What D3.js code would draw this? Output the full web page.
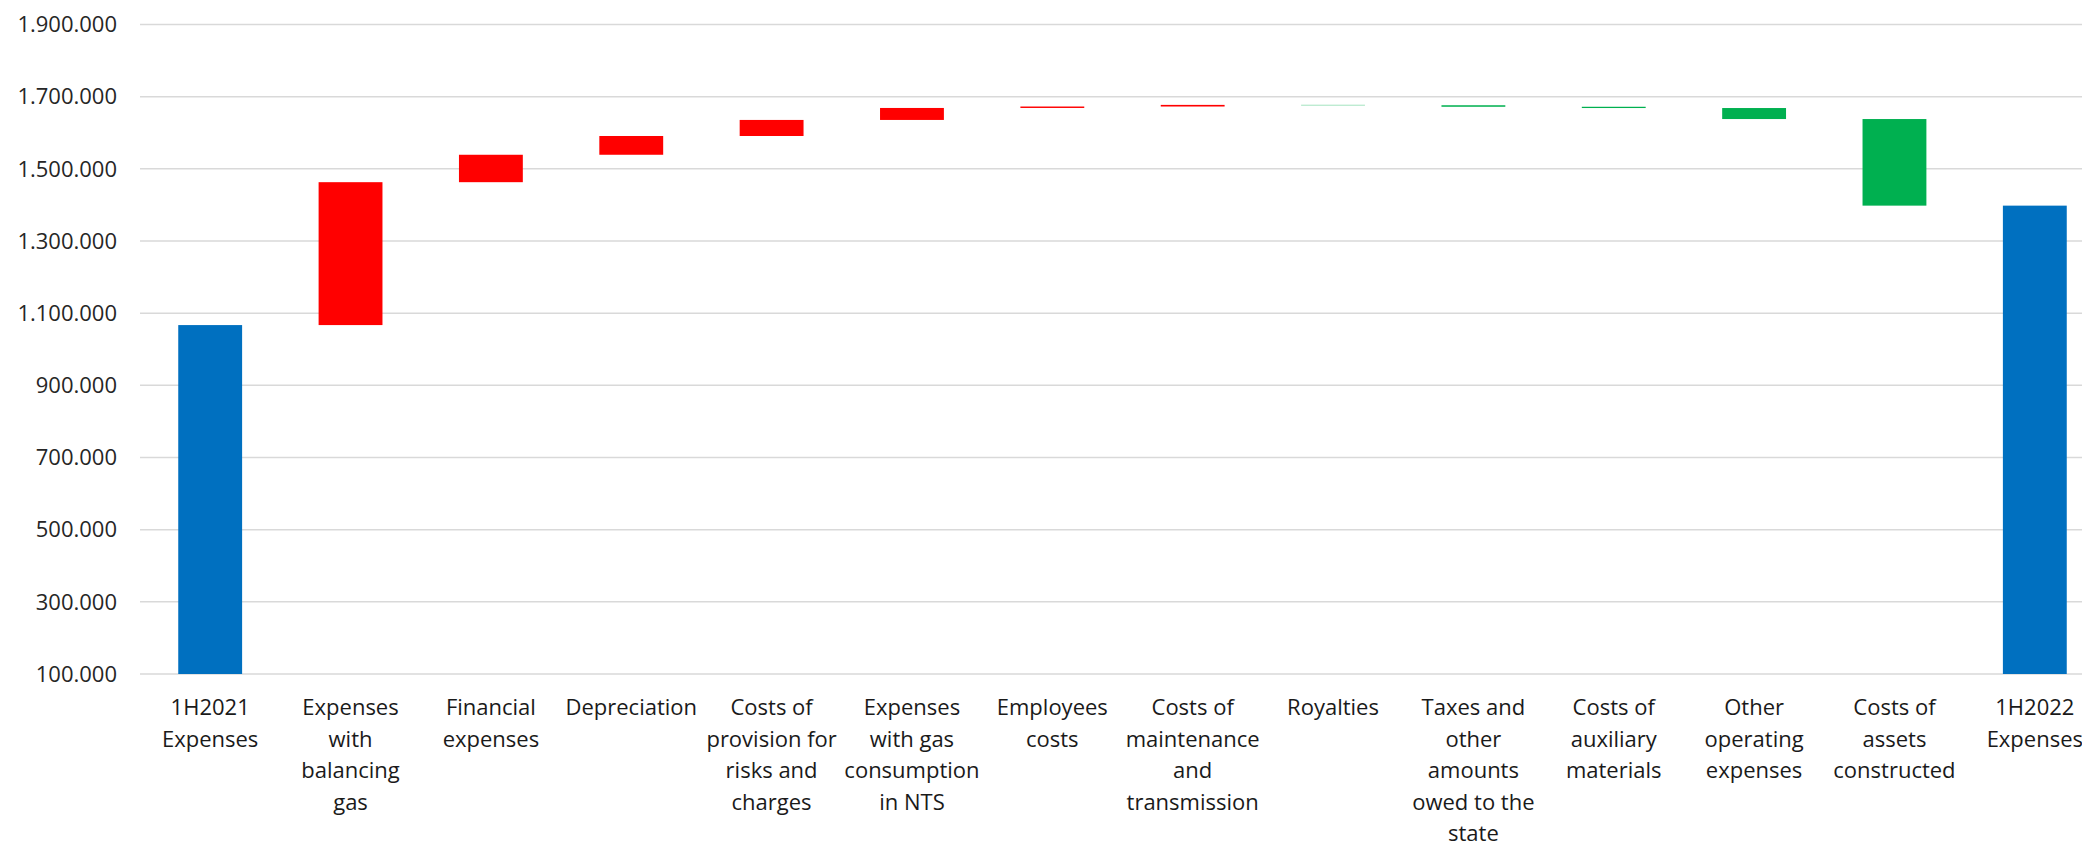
<!DOCTYPE html>
<html>
<head lang="en">
  <title>Expenses 1H2021 - 1H2022</title>
  <script src="https://d3js.org/d3.v7.min.js" charset="utf-8"></script>
  <style>
    body { margin: 0; background: #fff; }
  </style>
</head>
<body>
  <script>

    //DATA
    var categories = [
      "1H2021\nExpenses",
      "Expenses\nwith\nbalancing\ngas",
      "Financial\nexpenses",
      "Depreciation",
      "Costs of\nprovision for\nrisks and\ncharges",
      "Expenses\nwith gas\nconsumption\nin NTS",
      "Employees\ncosts",
      "Costs of\nmaintenance\nand\ntransmission",
      "Royalties",
      "Taxes and\nother\namounts\nowed to the\nstate",
      "Costs of\nauxiliary\nmaterials",
      "Other\noperating\nexpenses",
      "Costs of\nassets\nconstructed",
      "1H2022\nExpenses"
    ];

    var kinds = ["total", "delta", "delta", "delta", "delta", "delta", "delta",
                 "delta", "delta", "delta", "delta", "delta", "delta", "total"];

    var values = [1067000, 396000, 76000, 52000, 44500, 33200, 4000,
                  4500, -1000, -4200, -3500, -30500, -240000, 1398000];

    var yTicks = [100000, 300000, 500000, 700000, 900000,
                  1100000, 1300000, 1500000, 1700000, 1900000];

    var colors = { total: "#0070C0", up: "#FF0000", down: "#00B050" };

    //PART I: SETUP
    var width = 2082;
    var height = 846;
    var font = "'Segoe UI', 'Open Sans', sans-serif";

    var svg = d3.select("body")
      .append("svg")
      .attr("width", width)
      .attr("height", height);

    var x = d3.scaleBand()
      .domain(categories)
      .range([140, 2105])
      .paddingInner(0.545)
      .paddingOuter(0.2725);

    var y = d3.scaleLinear()
      .domain([yTicks[0], yTicks[yTicks.length - 1]])
      .range([674, 24.5]);

    var locale = d3.formatLocale({ decimal: ",", thousands: ".", grouping: [3], currency: ["", ""] });
    var fmt = locale.format(",.0f");

    // running totals -> bar start / end
    var running = 0;
    var bars = categories.map(function(c, i) {
      var d = { cat: c, kind: kinds[i], value: values[i] };
      if (d.kind == "total") {
        d.start = y.domain()[0];
        d.end = d.value;
        running = d.value;
        d.fill = colors.total;
      } else {
        d.start = running;
        d.end = running + d.value;
        running = d.end;
        d.fill = d.value >= 0 ? colors.up : colors.down;
      }
      return d;
    });

    //PART II: GRID + Y AXIS
    svg.append("g")
      .attr("class", "grid")
      .selectAll("line")
      .data(yTicks)
      .enter().append("line")
        .attr("x1", x.range()[0])
        .attr("x2", width)
        .attr("y1", function(d) { return y(d); })
        .attr("y2", function(d) { return y(d); })
        .attr("stroke", "#d9d9d9")
        .attr("stroke-width", 1.5);

    svg.append("g")
      .attr("class", "y-labels")
      .selectAll("text")
      .data(yTicks)
      .enter().append("text")
        .attr("x", 117)
        .attr("y", function(d) { return y(d); })
        .attr("dy", "0.35em")
        .attr("text-anchor", "end")
        .attr("font-family", font)
        .attr("font-size", "22px")
        .attr("fill", "#262626")
        .text(function(d) { return fmt(d); });

    //PART III: BARS
    svg.append("g")
      .attr("class", "bars")
      .selectAll("rect")
      .data(bars)
      .enter().append("rect")
        .attr("x", function(d) { return x(d.cat); })
        .attr("width", x.bandwidth())
        .attr("y", function(d) { return y(Math.max(d.start, d.end)); })
        .attr("height", function(d) { return Math.abs(y(d.start) - y(d.end)); })
        .attr("fill", function(d) { return d.fill; });

    //PART IV: CATEGORY LABELS
    var labels = svg.append("g")
      .attr("class", "x-labels")
      .selectAll("text")
      .data(categories)
      .enter().append("text")
        .attr("x", function(d) { return x(d) + x.bandwidth() / 2; })
        .attr("y", 715)
        .attr("text-anchor", "middle")
        .attr("font-family", font)
        .attr("font-size", "22px")
        .attr("fill", "#1a1a1a");

    labels.selectAll("tspan")
      .data(function(d) { return d.split("\n"); })
      .enter().append("tspan")
        .attr("x", function() { return d3.select(this.parentNode).attr("x"); })
        .attr("dy", function(d, i) { return i ? 31.5 : 0; })
        .text(function(d) { return d; });

  </script>
</body>
</html>
